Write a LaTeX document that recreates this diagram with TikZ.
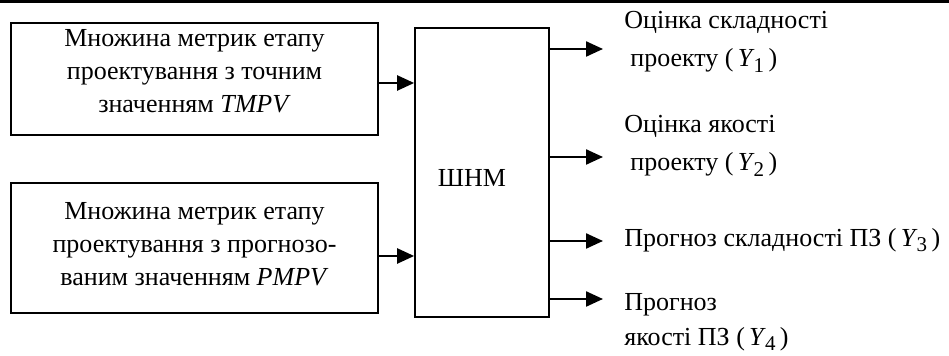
\documentclass[tikz,border=0pt]{standalone}
\usepackage{fontspec}
\setmainfont{Liberation Serif}
\usetikzlibrary{arrows.meta,positioning,calc}

\newcommand{\yout}[1]{\textit{Y}\kern-0.5pt\raisebox{-0.45ex}{\fontsize{10.5}{10.5}\selectfont #1}}

\begin{document}
\begin{tikzpicture}[x=0.5pt,y=-0.5pt,
          inbox/.style={draw, line width=0.85pt, minimum width=183.5pt,
                        inner sep=0pt},
          nnbox/.style={draw, line width=0.85pt, minimum width=67pt,
                        minimum height=144.5pt, inner sep=0pt},
          boxtext/.style={align=center, inner sep=0pt,
                          font=\fontsize{13}{16.5}\selectfont},
          outtext/.style={align=left, anchor=west, inner sep=0pt,
                          font=\fontsize{13}{16.5}\selectfont},
          arr/.style={-{Triangle[length=8.5pt,width=7.5pt]}, line width=1.15pt},
          topline/.style={line width=1.7pt}
        ]
          \useasboundingbox (0,0) rectangle (949,356);
          \draw[topline] (0,1.7) -- (949,1.7);
          % input boxes
          \node[inbox, minimum height=56pt] (tmpv) at (194.5,79) {};
          \node[boxtext] (tmpvtxt) at (194.5,71)
            {Множина метрик етапу\\проектування з точним\\значенням \textit{TMPV}};
          \node[inbox, minimum height=65pt] (pmpv) at (194.5,248) {};
          \node[boxtext] (pmpvtxt) at (194.5,244)
            {Множина метрик етапу\\проектування з прогнозо-\\ваним значенням \textit{PMPV}};
          % network
          \node[nnbox] (shnm) at (482,172.5) {};
          \node[boxtext] (shnmtxt) at (472,178) {ШНМ};
          \coordinate (in1) at (415,83);
          \coordinate (in2) at (415,256);
          \draw[arr] (tmpv.east |- in1) -- (shnm.west |- in1);
          \draw[arr] (pmpv.east |- in2) -- (shnm.west |- in2);
          % outputs
          \coordinate (o1) at (603,49);
          \coordinate (o2) at (603,157);
          \coordinate (o3) at (603,241);
          \coordinate (o4) at (603,299);
          \foreach \k in {1,...,4}
            \draw[arr] (shnm.east |- o\k) -- (o\k);
          \node[outtext] (y1) at (624,42)
            {Оцінка складності\\[2.5pt]\hspace*{3pt}проекту (\,\yout{1}\,)};
          \node[outtext] (y2) at (624,146)
            {Оцінка якості\\[2.5pt]\hspace*{3pt}проекту (\,\yout{2}\,)};
          \node[outtext] (y3) at (624,240)
            {Прогноз складності ПЗ (\,\yout{3}\,)};
          \node[outtext] (y4) at (624,322)
            {Прогноз\\[1pt]якості ПЗ (\,\yout{4}\,)};
        \end{tikzpicture}
\end{document}
